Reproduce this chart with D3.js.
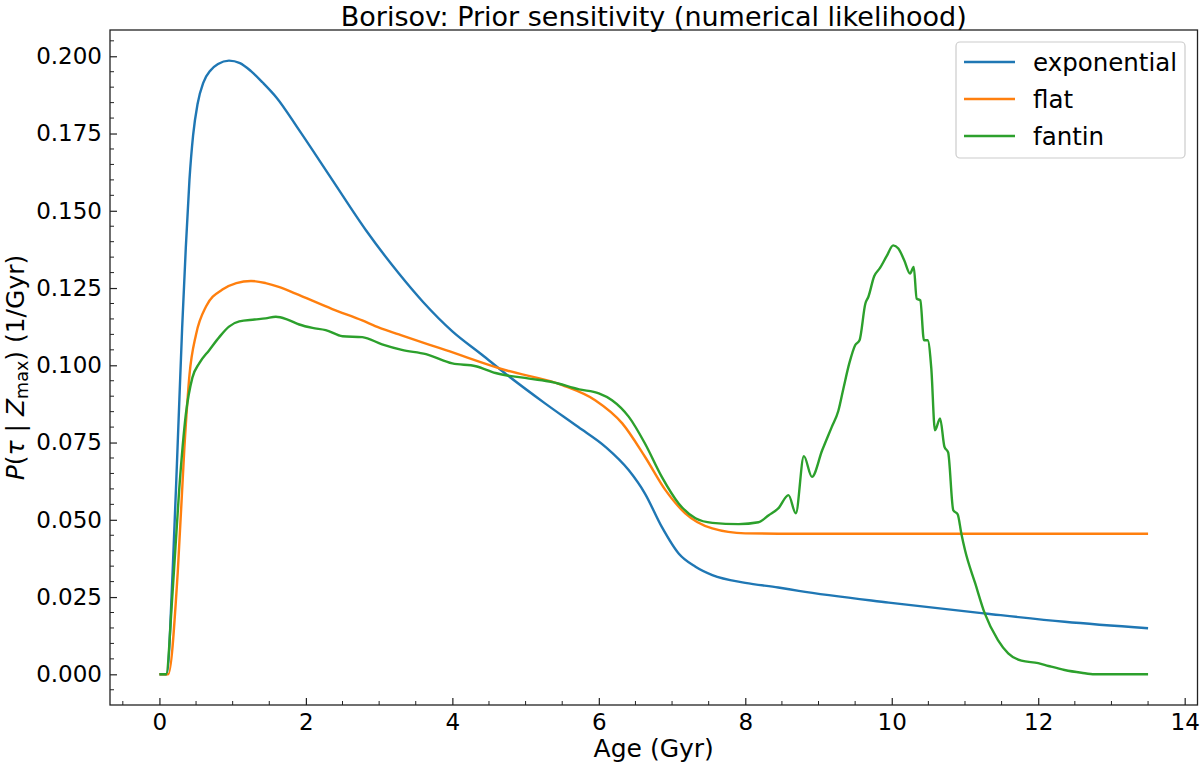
<!DOCTYPE html>
<html>
<head>
<meta charset="utf-8">
<script src="https://cdn.jsdelivr.net/npm/d3@7/dist/d3.min.js"></script>
<style>
  html, body { margin: 0; padding: 0; background: #fff; }
  text { font-family: "DejaVu Sans", sans-serif; fill: #000; }
</style>
</head>
<body>
<svg id="chart" width="1200" height="768"></svg>
<script>
// ---------------- data ----------------
const title = "Borisov: Prior sensitivity (numerical likelihood)";
const xLabel = "Age (Gyr)";
const seriesNames = ["exponential", "flat", "fantin"];
const seriesColors = ["#1f77b4", "#ff7f0e", "#2ca02c"];
const xTicks = [0, 2, 4, 6, 8, 10, 12, 14];
const yTicks = [0.000, 0.025, 0.050, 0.075, 0.100, 0.125, 0.150, 0.175, 0.200];

const expAge = [0, 0.1, 0.18, 0.25, 0.31, 0.36, 0.41, 0.46, 0.52, 0.6, 0.7, 0.8, 0.95, 1.1, 1.25, 1.41, 1.6, 1.91, 2.36, 2.82, 3.27, 3.6, 4.0, 4.4, 4.73, 5.27, 5.72, 6.09, 6.41, 6.63, 6.86, 7.09, 7.32, 7.55, 8.0, 8.45, 8.73, 9.96, 11.27, 12.36, 13.5];
const expVal = [0, 0, 0.033, 0.075, 0.112, 0.138, 0.160, 0.1745, 0.1845, 0.1915, 0.1955, 0.1975, 0.1986, 0.1978, 0.1952, 0.1915, 0.1866, 0.176, 0.160, 0.1437, 0.1297, 0.1205, 0.1110, 0.1035, 0.0972, 0.0876, 0.080, 0.0736, 0.066, 0.0585, 0.0477, 0.0391, 0.0348, 0.0321, 0.0296, 0.0281, 0.0270, 0.0232, 0.0197, 0.0170, 0.0149];

const flatAge = [0, 0.12, 0.25, 0.34, 0.41, 0.50, 0.64, 0.86, 1.05, 1.25, 1.45, 1.64, 1.86, 2.36, 2.77, 3.0, 3.27, 3.68, 3.91, 4.73, 5.5, 5.95, 6.32, 6.63, 6.91, 7.18, 7.55, 8.0, 8.45, 13.5];
const flatVal = [0, 0, 0.033, 0.073, 0.0968, 0.110, 0.1192, 0.1245, 0.1266, 0.1273, 0.1266, 0.1253, 0.1232, 0.1182, 0.1145, 0.1122, 0.1100, 0.1067, 0.1049, 0.0984, 0.0936, 0.0887, 0.0812, 0.0704, 0.0596, 0.0521, 0.0472, 0.0456, 0.0455, 0.0455];

const fantinAge = [0, 0.09, 0.18, 0.27, 0.36, 0.45, 0.545, 0.68, 0.82, 0.95, 1.09, 1.3, 1.45, 1.59, 1.75, 1.91, 2.09, 2.27, 2.5, 2.77, 3.04, 3.31, 3.64, 4.0, 4.32, 4.59, 5.05, 5.36, 5.73, 6.0, 6.18, 6.41, 6.63, 6.86, 7.09, 7.32, 7.55, 7.91, 8.18, 8.32, 8.45, 8.59, 8.69, 8.80, 8.91, 9.05, 9.18, 9.27, 9.34, 9.42, 9.5, 9.56, 9.64, 9.68, 9.76, 9.84, 9.93, 10.02, 10.09, 10.17, 10.25, 10.30, 10.34, 10.39, 10.44, 10.49, 10.54, 10.59, 10.66, 10.72, 10.77, 10.84, 10.9, 10.95, 11.0, 11.14, 11.27, 11.45, 11.59, 11.77, 12.0, 12.14, 12.36, 12.59, 12.77, 13.5];
const fantinVal = [0, 0, 0.0267, 0.0598, 0.0840, 0.0960, 0.1007, 0.1049, 0.1092, 0.1125, 0.1142, 0.1148, 0.1152, 0.1157, 0.1148, 0.1132, 0.1121, 0.1114, 0.1094, 0.1091, 0.1068, 0.1050, 0.1036, 0.1006, 0.0997, 0.0975, 0.0957, 0.0946, 0.0922, 0.0909, 0.0887, 0.0833, 0.0747, 0.0639, 0.0553, 0.0505, 0.049, 0.0486, 0.0492, 0.0515, 0.0537, 0.058, 0.0521, 0.0706, 0.0639, 0.0725, 0.0800, 0.0852, 0.0925, 0.1006, 0.1065, 0.1081, 0.1200, 0.1221, 0.1288, 0.1315, 0.1353, 0.1388, 0.1378, 0.134, 0.1297, 0.1318, 0.1216, 0.1210, 0.1081, 0.1081, 0.0990, 0.0790, 0.0828, 0.0736, 0.0718, 0.0531, 0.0518, 0.0456, 0.0402, 0.0294, 0.0197, 0.0111, 0.0068, 0.0044, 0.0036, 0.0027, 0.0014, 0.0005, 0, 0];

// ---------------- layout ----------------
const svg = d3.select("#chart");
const mLeft = 110, mRight = 1197.5, mTop = 30, mBottom = 705;
const FS = 23;        // tick labels
const FS_LABEL = 25;  // axis labels
const FS_TITLE = 27;
const FS_LEG = 24.5;

const x = d3.scaleLinear().domain([-0.675, 14.175]).range([mLeft, mRight]);
const y = d3.scaleLinear().domain([-0.00993, 0.2085]).range([mBottom, mTop]);

// lines
const series = [
  { name: seriesNames[0], color: seriesColors[0], ages: expAge, vals: expVal },
  { name: seriesNames[1], color: seriesColors[1], ages: flatAge, vals: flatVal },
  { name: seriesNames[2], color: seriesColors[2], ages: fantinAge, vals: fantinVal }
];
const line = d3.line().x(d => x(d[0])).y(d => y(d[1])).curve(d3.curveMonotoneX);

const plot = svg.append("g");
series.forEach(s => {
  const pts = s.ages.map((a, i) => [a, s.vals[i]]);
  plot.append("path")
    .attr("d", line(pts))
    .attr("fill", "none")
    .attr("stroke", s.color)
    .attr("stroke-width", 2.4)
    .attr("stroke-linejoin", "round")
    .attr("stroke-linecap", "butt");
});

// axes (ticks inward)
const xAxis = d3.axisBottom(x).tickValues(xTicks).tickFormat(d3.format("d")).tickSizeInner(-7).tickSizeOuter(0).tickPadding(9);
const gx = svg.append("g").attr("transform", `translate(0,${mBottom})`).call(xAxis);
const xMinor = d3.range(-0.5, 14.01, 0.5).filter(v => !xTicks.includes(v));
gx.selectAll(".minor").data(xMinor).enter().append("line")
  .attr("x1", d => x(d)).attr("x2", d => x(d)).attr("y1", 0).attr("y2", -4)
  .attr("stroke", "#222").attr("stroke-width", 1);

const yAxis = d3.axisLeft(y).tickValues(yTicks).tickFormat(d3.format(".3f")).tickSizeInner(-7).tickSizeOuter(0).tickPadding(8);
const gy = svg.append("g").attr("transform", `translate(${mLeft},0)`).call(yAxis);
const yMinor = d3.range(-0.005, 0.2051, 0.005).filter(v => !yTicks.some(t => Math.abs(t - v) < 1e-6));
gy.selectAll(".minor").data(yMinor).enter().append("line")
  .attr("x1", 0).attr("x2", 4).attr("y1", d => y(d)).attr("y2", d => y(d))
  .attr("stroke", "#222").attr("stroke-width", 1);

[gx, gy].forEach(g => {
  g.select(".domain").remove();
  g.selectAll(".tick line").attr("stroke", "#222").attr("stroke-width", 1.2);
  g.selectAll(".tick text").style("font-size", FS + "px").attr("fill", "#000");
});

// frame
svg.append("rect").attr("x", mLeft).attr("y", mTop).attr("width", mRight - mLeft).attr("height", mBottom - mTop)
  .attr("fill", "none").attr("stroke", "#222").attr("stroke-width", 1.3);

// title
svg.append("text").attr("x", (mLeft + mRight) / 2).attr("y", 25.5).attr("text-anchor", "middle")
  .style("font-size", FS_TITLE + "px").text(title);

// x label
svg.append("text").attr("x", (mLeft + mRight) / 2).attr("y", 757).attr("text-anchor", "middle")
  .style("font-size", FS_LABEL + "px").text(xLabel);

// y label
const yl = svg.append("text")
  .attr("transform", `translate(24,${(mTop + mBottom) / 2}) rotate(-90)`)
  .attr("text-anchor", "middle")
  .style("font-size", FS_LABEL + "px");
yl.append("tspan").attr("font-style", "italic").text("P");
yl.append("tspan").text("(");
yl.append("tspan").attr("font-style", "italic").text("τ");
yl.append("tspan").text(" | ");
yl.append("tspan").attr("font-style", "italic").text("Z");
yl.append("tspan").attr("dy", 4).style("font-size", "17.5px").text("max");
yl.append("tspan").attr("dy", -4).text(") (1/Gyr)");

// legend
const lg = svg.append("g");
lg.append("rect").attr("x", 956).attr("y", 42).attr("width", 229).attr("height", 116).attr("rx", 4)
  .attr("fill", "#fff").attr("fill-opacity", 0.8).attr("stroke", "#cccccc").attr("stroke-width", 1.2);
series.forEach((s, i) => {
  const yy = 62 + i * 37;
  lg.append("line").attr("x1", 964).attr("x2", 1015).attr("y1", yy).attr("y2", yy)
    .attr("stroke", s.color).attr("stroke-width", 2.4);
  lg.append("text").attr("x", 1033).attr("y", yy).attr("dy", "0.35em")
    .style("font-size", FS_LEG + "px").text(s.name);
});
</script>
</body>
</html>
